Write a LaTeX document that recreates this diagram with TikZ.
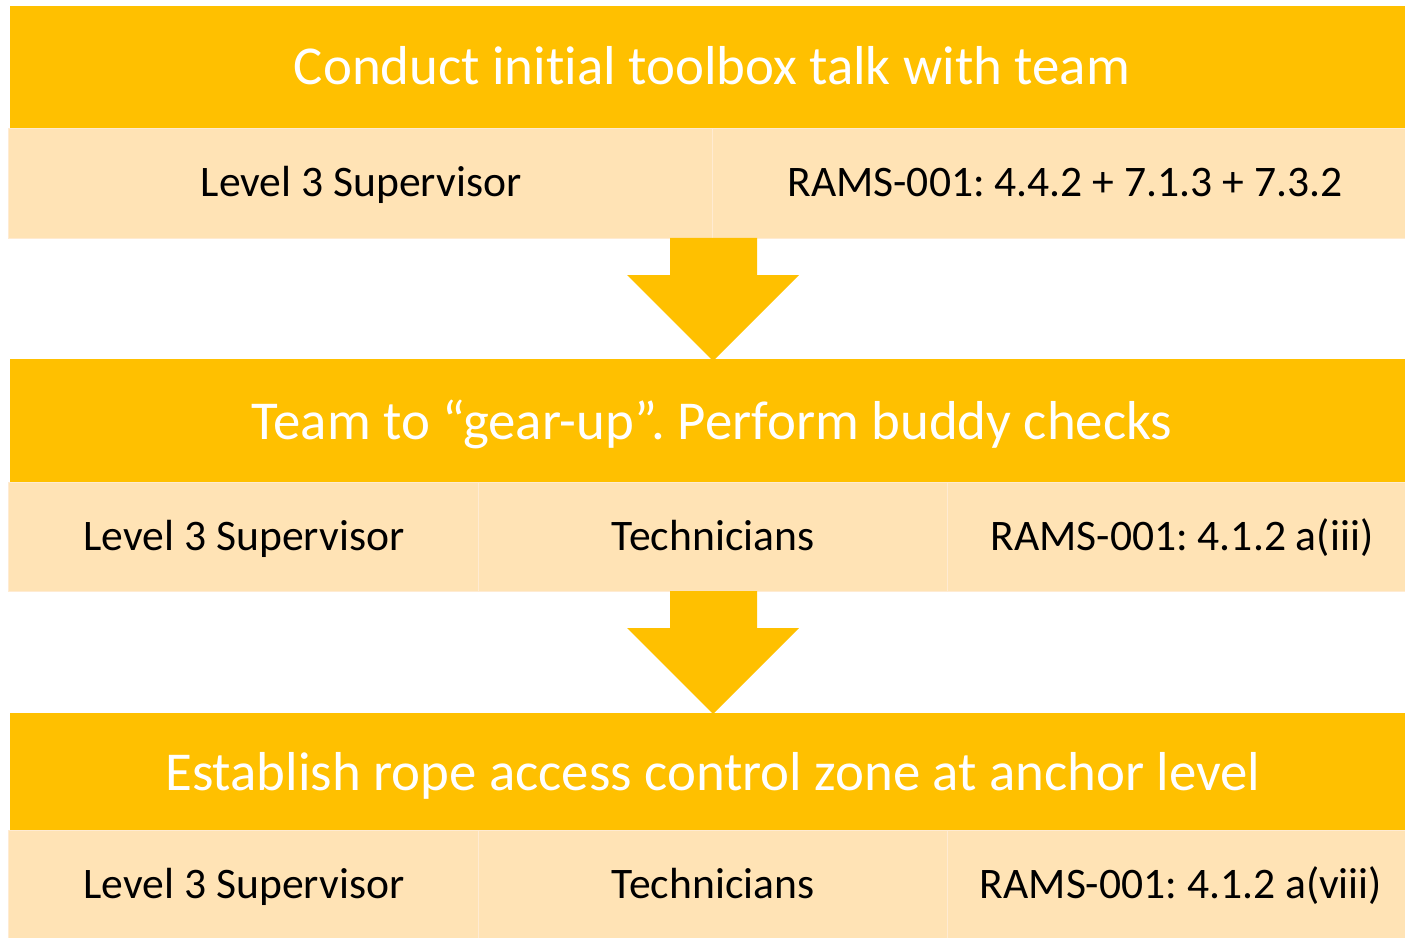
\documentclass[tikz,border=0pt]{standalone}
\usepackage{fontspec}
\setmainfont{Carlito}[RawFeature=-liga]
\frenchspacing
\definecolor{barorange}{HTML}{FFC000}
\definecolor{cellbeige}{HTML}{FFE3B5}
\definecolor{cellline}{HTML}{FFEBD2}
\tikzset{
  bartext/.style={white,anchor=base,font=\fontsize{39}{46}\selectfont},
  celltext/.style={black,anchor=base,font=\fontsize{31}{37}\selectfont},
  cellbox/.style={fill=cellbeige,draw=cellline,line width=0.6pt},
}
\begin{document}
\begin{tikzpicture}[x=0.025cm,y=-0.025cm]
    \useasboundingbox (0,0) rectangle (1405,938);
    % step 1
    \fill[barorange] (10,6) rectangle (1405,128);
    \node[bartext] (title1) at (712,85) {Conduct initial toolbox talk with team};
    \draw[cellbox] (8,128) rectangle (712,238);
    \draw[cellbox] (712,128) rectangle (1405,238);
    \node[celltext] (who1) at (361,197) {Level 3 Supervisor};
    \node[celltext] (ref1) at (1065,197) {RAMS-001: 4.4.2 + 7.1.3 + 7.3.2};
    % arrow 1
    \fill[barorange] (670,238) -- (757,238) -- (757,275) -- (799,275)
      -- (713,361) -- (627,275) -- (670,275) -- cycle;
    % step 2
    \fill[barorange] (10,359) rectangle (1405,482);
    \node[bartext] (title2) at (712,439) {Team to “gear-up”. Perform buddy checks};
    \draw[cellbox] (8,482) rectangle (478,591);
    \draw[cellbox] (478,482) rectangle (947,591);
    \draw[cellbox] (947,482) rectangle (1405,591);
    \node[celltext] (who2a) at (244,550) {Level 3 Supervisor};
    \node[celltext] (who2b) at (713,550) {Technicians};
    \node[celltext] (ref2) at (1182,550) {RAMS-001: 4.1.2 a(iii)};
    % arrow 2
    \fill[barorange] (670,591) -- (757,591) -- (757,628) -- (799,628)
      -- (713,714) -- (627,628) -- (670,628) -- cycle;
    % step 3
    \fill[barorange] (10,713) rectangle (1405,830);
    \node[bartext] (title3) at (713,790) {Establish rope access control zone at anchor level};
    \draw[cellbox] (8,830) rectangle (478,938);
    \draw[cellbox] (478,830) rectangle (947,938);
    \draw[cellbox] (947,830) rectangle (1405,938);
    \node[celltext] (who3a) at (244,898) {Level 3 Supervisor};
    \node[celltext] (who3b) at (713,898) {Technicians};
    \node[celltext] (ref3) at (1181,898) {RAMS-001: 4.1.2 a(viii)};
\end{tikzpicture}
\end{document}
